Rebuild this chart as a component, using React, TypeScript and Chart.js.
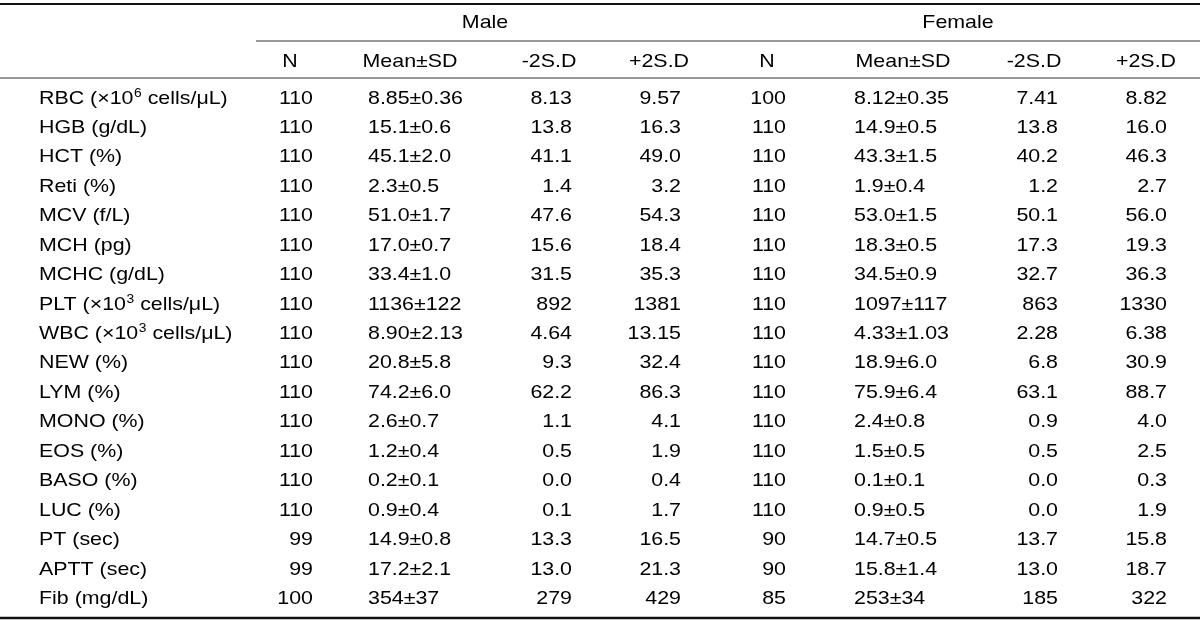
import React, { useEffect, useRef } from "react";
import { Chart, registerables } from "chart.js";

Chart.register(...registerables);

// ---- data ----
const groupHeaders = ["Male", "Female"];
const columnHeaders = ["N", "Mean±SD", "-2S.D", "+2S.D", "N", "Mean±SD", "-2S.D", "+2S.D"];
const rowLabels = [
  "RBC (×10^6 cells/μL)",
  "HGB (g/dL)",
  "HCT (%)",
  "Reti (%)",
  "MCV (f/L)",
  "MCH (pg)",
  "MCHC (g/dL)",
  "PLT (×10^3 cells/μL)",
  "WBC (×10^3 cells/μL)",
  "NEW (%)",
  "LYM (%)",
  "MONO (%)",
  "EOS (%)",
  "BASO (%)",
  "LUC (%)",
  "PT (sec)",
  "APTT (sec)",
  "Fib (mg/dL)",
];
const rowDecimals = [2, 1, 1, 1, 1, 1, 1, 0, 2, 1, 1, 1, 1, 1, 1, 1, 1, 0];

const maleN = [110, 110, 110, 110, 110, 110, 110, 110, 110, 110, 110, 110, 110, 110, 110, 99, 99, 100];
const maleMean = [8.85, 15.1, 45.1, 2.3, 51.0, 17.0, 33.4, 1136, 8.9, 20.8, 74.2, 2.6, 1.2, 0.2, 0.9, 14.9, 17.2, 354];
const maleSD = [0.36, 0.6, 2.0, 0.5, 1.7, 0.7, 1.0, 122, 2.13, 5.8, 6.0, 0.7, 0.4, 0.1, 0.4, 0.8, 2.1, 37];
const maleLow = [8.13, 13.8, 41.1, 1.4, 47.6, 15.6, 31.5, 892, 4.64, 9.3, 62.2, 1.1, 0.5, 0.0, 0.1, 13.3, 13.0, 279];
const maleHigh = [9.57, 16.3, 49.0, 3.2, 54.3, 18.4, 35.3, 1381, 13.15, 32.4, 86.3, 4.1, 1.9, 0.4, 1.7, 16.5, 21.3, 429];

const femaleN = [100, 110, 110, 110, 110, 110, 110, 110, 110, 110, 110, 110, 110, 110, 110, 90, 90, 85];
const femaleMean = [8.12, 14.9, 43.3, 1.9, 53.0, 18.3, 34.5, 1097, 4.33, 18.9, 75.9, 2.4, 1.5, 0.1, 0.9, 14.7, 15.8, 253];
const femaleSD = [0.35, 0.5, 1.5, 0.4, 1.5, 0.5, 0.9, 117, 1.03, 6.0, 6.4, 0.8, 0.5, 0.1, 0.5, 0.5, 1.4, 34];
const femaleLow = [7.41, 13.8, 40.2, 1.2, 50.1, 17.3, 32.7, 863, 2.28, 6.8, 63.1, 0.9, 0.5, 0.0, 0.0, 13.7, 13.0, 185];
const femaleHigh = [8.82, 16.0, 46.3, 2.7, 56.0, 19.3, 36.3, 1330, 6.38, 30.9, 88.7, 4.0, 2.5, 0.3, 1.9, 15.8, 18.7, 322];

// ---- layout (page coordinates, mapped through the chart's scales) ----
const W = 1200;
const H = 621;
const FONT_PX = 18.6;
const X_STRETCH = 1.15;
const FONT_FAMILY = '"Liberation Sans", Arial, Helvetica, sans-serif';
const LABEL_X = 39;
// [x, align] for the 8 data columns
const DATA_COLS: [number, CanvasTextAlign][] = [
  [313, "right"],
  [368, "left"],
  [572, "right"],
  [681, "right"],
  [786, "right"],
  [854, "left"],
  [1058, "right"],
  [1167, "right"],
];
const HEADER_CENTERS = [290, 410, 549, 659, 767, 903, 1034, 1146];
const GROUP_CENTERS = [485, 958];
const GROUP_BASE = 28.3;
const HEADER_BASE = 66.7;
const FIRST_ROW_BASE = 103.5;
const ROW_PITCH = 29.44;

const fmt = (v: number, d: number) => v.toFixed(d);

const tablePlugin = {
  id: "tablePlugin",
  afterDraw(chart: any) {
    const ctx: CanvasRenderingContext2D = chart.ctx;
    const xs = chart.scales.x;
    const ys = chart.scales.y;
    const px = (v: number) => xs.getPixelForValue(v);
    const py = (v: number) => ys.getPixelForValue(v);
    const font = (size: number) => `${size}px ${FONT_FAMILY}`;

    const text = (s: string, x: number, y: number, align: CanvasTextAlign, size = FONT_PX) => {
      ctx.save();
      ctx.font = font(size);
      ctx.textAlign = align;
      ctx.textBaseline = "alphabetic";
      ctx.fillStyle = "#000";
      ctx.translate(px(x), py(y));
      ctx.scale(X_STRETCH, 1);
      ctx.fillText(s, 0, 0);
      ctx.restore();
    };

    // label with ^superscript support, left aligned
    const richLabel = (s: string, x: number, y: number) => {
      ctx.save();
      ctx.fillStyle = "#000";
      ctx.textBaseline = "alphabetic";
      ctx.textAlign = "left";
      ctx.translate(px(x), py(y));
      ctx.scale(X_STRETCH, 1);
      let cx = 0;
      const parts = s.split(/(\^\d)/);
      for (const p of parts) {
        if (!p) continue;
        if (p.startsWith("^")) {
          ctx.font = font(12);
          ctx.fillText(p.slice(1), cx + 0.5, -7);
          cx += ctx.measureText(p.slice(1)).width + 0.5;
        } else {
          ctx.font = font(FONT_PX);
          ctx.fillText(p, cx, 0);
          cx += ctx.measureText(p).width;
        }
      }
      ctx.restore();
    };

    const hline = (x1: number, x2: number, y: number, w: number, color: string) => {
      ctx.save();
      ctx.strokeStyle = color;
      ctx.lineWidth = w;
      ctx.beginPath();
      ctx.moveTo(px(x1), py(y));
      ctx.lineTo(px(x2), py(y));
      ctx.stroke();
      ctx.restore();
    };

    // rules
    hline(0, W, 4, 1.8, "#111");
    hline(256, W, 41, 1.2, "#333");
    hline(0, W, 78, 1.2, "#333");
    hline(0, W, 618, 2.6, "#111");

    // group headers
    groupHeaders.forEach((g, i) => text(g, GROUP_CENTERS[i], GROUP_BASE, "center"));
    // column headers
    columnHeaders.forEach((h, i) => text(h, HEADER_CENTERS[i], HEADER_BASE, "center"));

    // rows
    rowLabels.forEach((lab, r) => {
      const y = FIRST_ROW_BASE + r * ROW_PITCH;
      const d = rowDecimals[r];
      richLabel(lab, LABEL_X, y);
      const cells = [
        String(maleN[r]),
        `${fmt(maleMean[r], d)}±${fmt(maleSD[r], d)}`,
        fmt(maleLow[r], d),
        fmt(maleHigh[r], d),
        String(femaleN[r]),
        `${fmt(femaleMean[r], d)}±${fmt(femaleSD[r], d)}`,
        fmt(femaleLow[r], d),
        fmt(femaleHigh[r], d),
      ];
      cells.forEach((c, i) => text(c, DATA_COLS[i][0], y, DATA_COLS[i][1]));
    });
  },
};

export default function App() {
  const ref = useRef<HTMLCanvasElement | null>(null);
  useEffect(() => {
    document.body.style.margin = "0";
    document.body.style.background = "#fff";
    const canvas = ref.current;
    if (!canvas) return;
    const chart = new Chart(canvas, {
      type: "scatter",
      data: { datasets: [{ data: [], pointRadius: 0 }] },
      options: {
        animation: false,
        responsive: false,
        devicePixelRatio: 1,
        layout: { padding: 0 },
        plugins: { legend: { display: false }, tooltip: { enabled: false } },
        scales: {
          x: { type: "linear", min: 0, max: W, display: false },
          y: { type: "linear", min: 0, max: H, reverse: true, display: false },
        },
      },
      plugins: [tablePlugin],
    });
    return () => chart.destroy();
  }, []);
  return (
    <div style={{ width: W, height: H, background: "#fff" }}>
      <canvas ref={ref} width={W} height={H} style={{ display: "block" }} />
    </div>
  );
}
